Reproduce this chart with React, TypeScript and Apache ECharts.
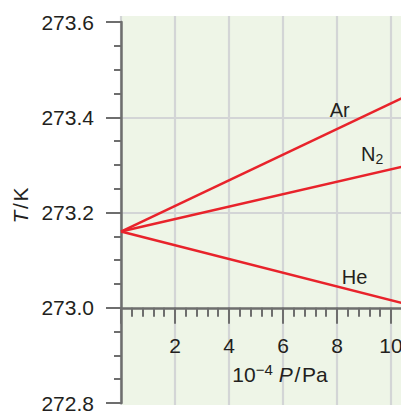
import React, { useEffect, useRef } from "react";
import * as echarts from "echarts";

// Pressure in units of 10^4 Pa
const pressure = [0, 10.4];
// Temperature (K) of each gas thermometer reading
const tempAr = [273.16, 273.44];
const tempN2 = [273.16, 273.296];
const tempHe = [273.16, 273.01];

const gasNames = ["Ar", "N2", "He"];
const gasLabelAt: [number, number][] = [
  [8.1, 273.415],
  [9.3, 273.322],
  [8.65, 273.065],
];

const xTicks = [2, 4, 6, 8, 10];

const FONT = "Liberation Sans, Arial, Helvetica, sans-serif";
const AXIS = "#6e6e6e";
const GRIDLINE = "#d3d5d6";
const RED = "#e8232b";
const INK = "#231f20";
const FS = 21;

export default function App() {
  const ref = useRef<HTMLDivElement>(null);

  useEffect(() => {
    document.body.style.margin = "0";
    const chart = echarts.init(ref.current!, null, { renderer: "svg" });

    const pts = (ys: number[]) => pressure.map((p, i) => [p, ys[i]]);
    const label = (k: number) => ({
      symbol: "circle",
      symbolSize: 0,
      silent: true,
      label: {
        show: true,
        position: "inside",
        formatter: k === 1 ? "{n|N}{s|2}" : gasNames[k],
        color: INK,
        fontFamily: FONT,
        fontSize: 20,
        rich: {
          n: { fontFamily: FONT, fontSize: 20, color: INK },
          s: { fontFamily: FONT, fontSize: 14, color: INK, padding: [10, 0, 0, 0] },
        },
      },
      data: [{ coord: gasLabelAt[k] }],
    });

    const series = [tempAr, tempN2, tempHe].map((ys, k) => ({
      type: "line",
      name: gasNames[k],
      xAxisIndex: 1,
      yAxisIndex: 1,
      data: pts(ys),
      symbol: "none",
      lineStyle: { color: RED, width: 2.5 },
      z: 5,
      markPoint: label(k),
    }));

    // 27 px per unit of pressure; the plot runs on past the right edge
    const W = 324;
    const gridBase = { left: 121, width: W, outerBoundsMode: "none", containLabel: false };

    chart.setOption({
      animation: false,
      grid: [
        {
          ...gridBase, top: 16, bottom: 7,
          show: true, backgroundColor: "#eef5e7", borderWidth: 0,
        },
        { ...gridBase, top: 22, bottom: 9 },
        { ...gridBase, top: 22, bottom: 104.25 },
      ],
      xAxis: [
        {
          gridIndex: 0, type: "value", min: 0, max: 12, interval: 2,
          axisLine: { show: false }, axisTick: { show: false },
          axisLabel: { show: false },
          splitLine: { show: true, lineStyle: { color: GRIDLINE, width: 2.2 } },
        },
        {
          gridIndex: 1, type: "value", min: 0, max: 12, interval: 2, show: false,
          splitLine: { show: false },
        },
        {
          gridIndex: 2, type: "value", min: 0, max: 12, interval: 2,
          axisLine: { show: true, lineStyle: { color: AXIS, width: 2.5 } },
          axisTick: { show: true, length: 16, lineStyle: { color: AXIS, width: 2 } },
          minorTick: { show: true, splitNumber: 5, length: 9, lineStyle: { color: AXIS, width: 2 } },
          splitLine: { show: false },
          axisLabel: {
            margin: 27,
            fontFamily: FONT, fontSize: FS, color: INK,
            formatter: (v: number) => (xTicks.includes(v) ? String(v) : ""),
          },
          name: "{n|10}{s|\u22124} {i|P}{n|\u200a/\u200aPa}",
          nameLocation: "middle",
          nameGap: 54,
          nameTextStyle: {
            fontFamily: FONT, fontSize: FS, color: INK, padding: [0, 0, 0, -6],
            rich: {
              n: { fontFamily: FONT, fontSize: FS, color: INK },
              s: { fontFamily: FONT, fontSize: 15, color: INK, padding: [0, 0, 10, 0] },
              i: { fontFamily: FONT, fontSize: FS, color: INK, fontStyle: "italic" },
            },
          },
        },
      ],
      yAxis: [
        { gridIndex: 0, type: "value", show: false, splitLine: { show: false } },
        {
          gridIndex: 1, type: "value", min: 272.8, max: 273.6, interval: 0.2,
          axisLine: { show: true, lineStyle: { color: AXIS, width: 2.5 } },
          axisTick: { show: true, length: 15, lineStyle: { color: AXIS, width: 2 } },
          minorTick: { show: true, splitNumber: 4, length: 7, lineStyle: { color: AXIS, width: 2 } },
          splitLine: {
            show: true,
            lineStyle: {
              color: ["rgba(0,0,0,0)", "rgba(0,0,0,0)", GRIDLINE, GRIDLINE, "rgba(0,0,0,0)"],
              width: 2.2,
            },
          },
          axisLabel: {
            margin: 27,
            fontFamily: FONT, fontSize: FS, color: INK,
            formatter: (v: number) => v.toFixed(1),
          },
          name: "{i|T}\u200a/\u200aK",
          nameLocation: "middle",
          nameGap: 90,
          nameRotate: 90,
          nameTextStyle: {
            fontFamily: FONT, fontSize: FS, color: INK, padding: [0, 0, 0, 14],
            rich: {
              i: { fontFamily: FONT, fontSize: FS, color: INK, fontStyle: "italic" },
            },
          },
        },
        { gridIndex: 2, type: "value", min: 0, max: 1, show: false, splitLine: { show: false } },
      ],
      series,
    });

    return () => chart.dispose();
  }, []);

  return <div ref={ref} style={{ width: 401, height: 412 }} />;
}
